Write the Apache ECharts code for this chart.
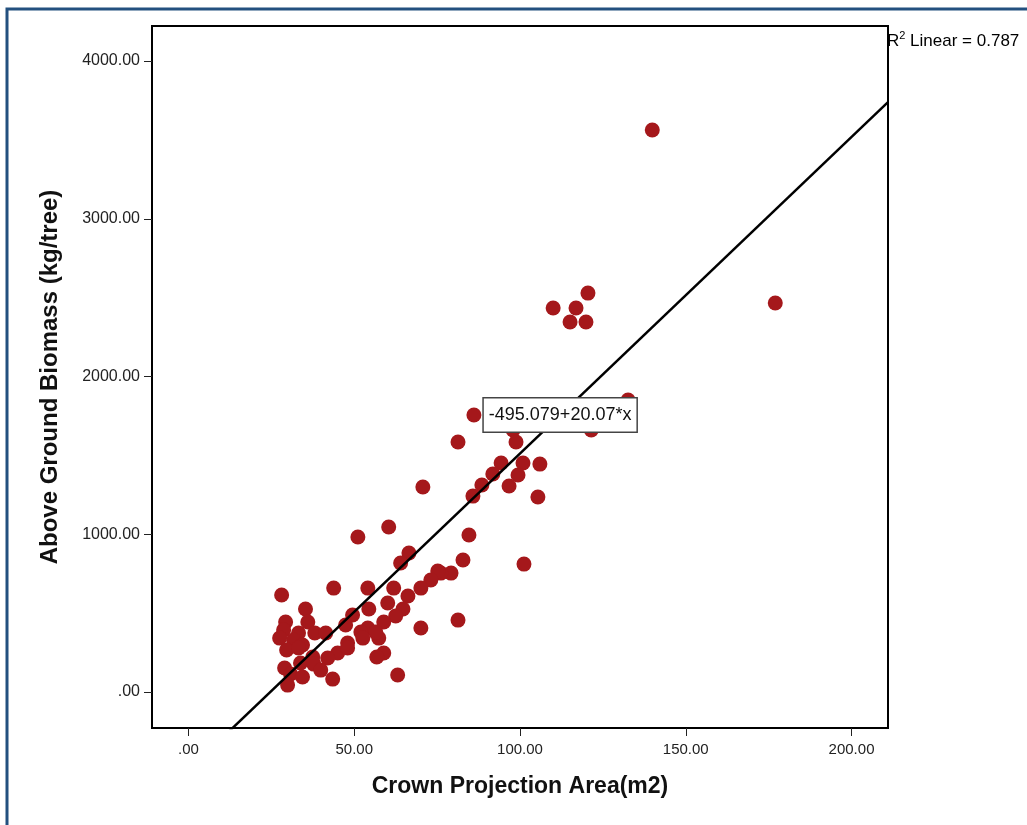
<!DOCTYPE html>
<html>
<head>
<meta charset="utf-8">
<script src="https://cdn.jsdelivr.net/npm/echarts@6/dist/echarts.min.js"></script>
<style>
  html, body { margin: 0; padding: 0; background: #fff; }
  #main { width: 1027px; height: 825px; }
</style>
</head>
<body>
<div id="main"></div>
<script>
// crown projection area (m2)
var crownArea = [
  139.9, 177.0, 110.0, 120.5, 116.9, 115.1, 119.9, 132.6, 121.5, 86.1,
  81.3, 97.9, 98.8, 94.3, 100.9, 106.0, 91.8, 99.4, 88.5, 96.7,
  85.8, 105.4, 84.6, 82.8, 79.2, 76.1, 101.2, 81.3, 70.7, 51.1,
  60.4, 66.5, 64.0, 75.2, 73.1, 70.1, 61.9, 54.1, 43.8, 66.2,
  60.1, 54.4, 64.7, 62.5, 49.5, 58.9, 70.1, 47.4, 54.1, 52.0,
  57.4, 48.0, 58.9, 56.8, 45.0, 28.1, 35.3, 36.0, 29.3, 28.7,
  33.2, 38.1, 41.4, 27.5, 31.7, 34.4, 29.6, 33.2, 37.5, 42.0,
  48.0, 29.0, 33.8, 37.8, 39.9, 30.8, 34.4, 29.9, 43.5, 63.1,
  56.5, 52.6
]
// above ground biomass (kg/tree)
var biomass = [
  3563, 2466, 2434, 2529, 2434, 2346, 2346, 1851, 1661, 1756,
  1585, 1661, 1585, 1452, 1452, 1445, 1382, 1376, 1312, 1306,
  1242, 1236, 995, 837, 754, 754, 811, 456, 1300, 983,
  1046, 881, 818, 767, 710, 659, 659, 659, 659, 609,
  564, 526, 526, 482, 488, 444, 406, 425, 406, 380,
  342, 311, 247, 222, 247, 615, 526, 444, 444, 393,
  374, 374, 374, 342, 330, 298, 266, 279, 222, 216,
  279, 152, 184, 177, 139, 114, 95, 44, 82, 108,
  380, 342
]
var xTicks = [0, 50, 100, 150, 200]
var yTicks = [0, 1000, 2000, 3000, 4000]
var fitIntercept = -495.079
var fitSlope = 20.07
var rSquared = 0.787

var xMin = -11, xMax = 211
var yMin = -228, yMax = 4222

function tickText (v) {
  return v === 0 ? '.00' : v.toFixed(2)
}

var points = crownArea.map(function (x, i) { return [x, biomass[i]] })
var fitLine = [xMin, xMax].map(function (x) { return [x, fitIntercept + fitSlope * x] })

var myChart = echarts.init(document.getElementById('main'))
var option = {
  backgroundColor: '#ffffff',
  animation: false,
  grid: {
    left: 152,
    top: 26,
    right: 139,
    bottom: 97,
    show: true,
    borderColor: '#000',
    borderWidth: 2
  },
  xAxis: {
    type: 'value',
    min: xMin,
    max: xMax,
    name: 'Crown Projection Area(m2)',
    nameLocation: 'middle',
    nameGap: 47,
    nameTextStyle: {
      fontFamily: 'Liberation Sans',
      fontWeight: 'bold',
      fontSize: 23,
      color: '#111'
    },
    axisLine: { show: true, onZero: false, lineStyle: { color: '#000', width: 2 } },
    axisTick: {
      show: true,
      length: 8,
      customValues: xTicks,
      lineStyle: { color: '#222', width: 1 }
    },
    axisLabel: {
      customValues: xTicks,
      formatter: tickText,
      margin: 14,
      fontFamily: 'Liberation Sans',
      fontSize: 15,
      color: '#222'
    },
    splitLine: { show: false }
  },
  yAxis: {
    type: 'value',
    min: yMin,
    max: yMax,
    name: 'Above Ground Biomass (kg/tree)',
    nameLocation: 'middle',
    nameGap: 90,
    nameTextStyle: {
      fontFamily: 'Liberation Sans',
      fontWeight: 'bold',
      fontSize: 24,
      color: '#111'
    },
    axisLine: { show: true, onZero: false, lineStyle: { color: '#000', width: 2 } },
    axisTick: {
      show: true,
      length: 8,
      customValues: yTicks,
      lineStyle: { color: '#222', width: 1 }
    },
    axisLabel: {
      customValues: yTicks,
      formatter: tickText,
      margin: 12,
      fontFamily: 'Liberation Sans',
      fontSize: 16,
      color: '#222'
    },
    splitLine: { show: false }
  },
  graphic: [
    {
      type: 'polyline',
      shape: { points: [[7, 825], [7, 9], [1027, 9]] },
      style: { stroke: '#23507f', lineWidth: 3, fill: null }
    },
    {
      type: 'text',
      left: 887,
      top: 30,
      style: {
        text: '{a|R}{s|2}{a| Linear = ' + rSquared + '}',
        rich: {
          a: { fontFamily: 'Liberation Sans', fontSize: 17, color: '#111', lineHeight: 20, verticalAlign: 'bottom' },
          s: { fontFamily: 'Liberation Sans', fontSize: 11, color: '#111', lineHeight: 20, verticalAlign: 'top' }
        }
      }
    }
  ],
  series: [
    {
      type: 'scatter',
      data: points,
      symbol: 'circle',
      symbolSize: 15,
      itemStyle: { color: '#a5181b', opacity: 1 },
      z: 2
    },
    {
      type: 'line',
      data: fitLine,
      clip: true,
      symbol: 'none',
      lineStyle: { color: '#000', width: 2.5 },
      z: 3,
      markPoint: {
        symbol: 'rect',
        symbolSize: 1,
        itemStyle: { color: 'rgba(0,0,0,0)' },
        data: [{
          coord: [112.1, 1756],
          label: {
            show: true,
            position: 'inside',
            formatter: fitIntercept + '+' + fitSlope + '*x',
            fontFamily: 'Liberation Sans',
            fontSize: 18,
            color: '#111',
            backgroundColor: '#fff',
            borderColor: '#444',
            borderWidth: 1.5,
            padding: [8, 5, 7, 5]
          }
        }]
      }
    }
  ]
}
myChart.setOption(option)
window.onresize = myChart.resize
</script>
</body>
</html>
